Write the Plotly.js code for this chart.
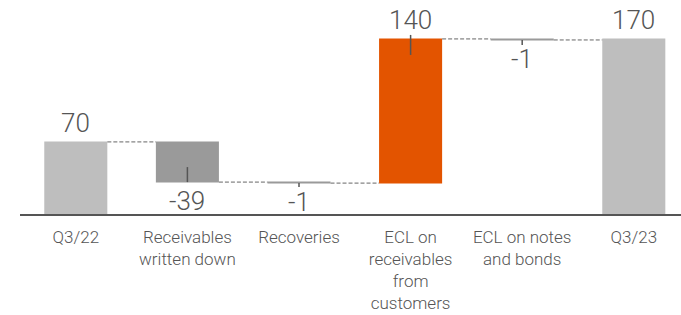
<!DOCTYPE html>
<html><head><meta charset="utf-8">
<script src="https://cdn.plot.ly/plotly-3.0.1.min.js"></script>
<style>html,body{margin:0;padding:0;background:#fff}#chart{width:681px;height:315px}</style>
</head><body><div id="chart"></div>
<script>
// ---- data ----
const categories = ["Q3/22", "Receivables<br>written down", "Recoveries", "ECL on<br>receivables<br>from<br>customers", "ECL on notes<br>and bonds", "Q3/23"];
const values = [70, -39, -1, 140, -1, 170];
const measures = ["absolute", "relative", "relative", "relative", "relative", "absolute"];
const valueLabels = ["70", "-39", "-1", "140", "-1", "170"];

// ---- styling ----
const FONT = "Roboto, 'Liberation Sans', sans-serif";
const TXT = "#555555";
// leader line pixel spans relative to the bar end [from, to] (positive = up); null = none
const leaders = [null, [0, 15], [0, -4], [4, -16], [0, -5], null];

// running levels
let level = 0;
const ends = values.map((v, i) => {
  level = measures[i] === "absolute" ? v : level + v;
  return level;
});

const trace = {
  type: "waterfall",
  x: categories,
  y: values,
  measure: measures,
  width: 0.565,
  textposition: "none",
  hoverinfo: "skip",
  cliponaxis: false,
  increasing: {marker: {color: "#e35400"}},
  decreasing: {marker: {color: "#9a9a9a"}},
  totals: {marker: {color: "#bebebe"}},
  connector: {mode: "between", line: {color: "#666666", width: 1, dash: "4px,2px"}}
};

const annotations = values.map((v, i) => ({
  x: categories[i], y: ends[i], xref: "x", yref: "y",
  text: valueLabels[i], showarrow: false,
  yanchor: "middle", yshift: v >= 0 ? 19 : -19,
  font: {family: FONT, size: 26, color: TXT, weight: 300}
}));

const shapes = [];
leaders.forEach((s, i) => {
  if (!s) return;
  shapes.push({
    type: "line", xref: "x", yref: "y", ysizemode: "pixel",
    x0: i, x1: i, yanchor: ends[i], y0: s[0], y1: s[1],
    line: {color: TXT, width: 1.5}
  });
});

const layout = {
  width: 681, height: 315,
  margin: {l: 20, r: 0, t: 0, b: 101},
  paper_bgcolor: "#fff", plot_bgcolor: "#fff",
  showlegend: false,
  xaxis: {
    type: "category",
    range: [-0.5, 5.423],
    showline: true, linecolor: "#555", linewidth: 1.5,
    showgrid: false, zeroline: false, ticks: "",
    ticklabelstandoff: 7,
    tickfont: {family: FONT, size: 17, color: TXT, weight: 300},
    fixedrange: true
  },
  yaxis: {
    range: [0, 207.8],
    visible: false, showgrid: false, zeroline: false, fixedrange: true
  },
  annotations: annotations,
  shapes: shapes
};

Plotly.newPlot("chart", [trace], layout, {staticPlot: true, displayModeBar: false});
</script>
</body></html>
